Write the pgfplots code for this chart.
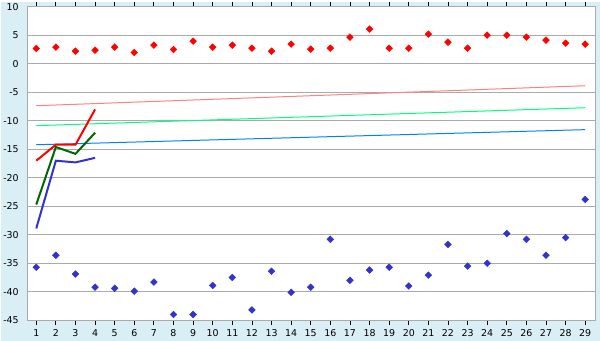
\documentclass[border=0pt]{standalone}
\usepackage{pgfplots}
\pgfplotsset{compat=1.18}
\usepackage{fontspec}
\setmainfont{DejaVu Sans}
\definecolor{bgblue}{HTML}{DAEEF5}
\definecolor{gridgray}{HTML}{AAAAAA}
\definecolor{mblue}{HTML}{3333CC}
\definecolor{dgreen}{HTML}{006600}
\definecolor{tred}{HTML}{FF8080}
\definecolor{tgreen}{HTML}{00FF80}
\definecolor{tblue}{HTML}{0080FF}
\begin{document}
\begin{tikzpicture}
\fill[bgblue] (0,0) rectangle (600bp,340bp);
\begin{axis}[
  at={(26bp,20.7bp)}, anchor=south west,
  scale only axis, width=569bp, height=314bp,
  xmin=0.54, xmax=29.5, ymin=-45, ymax=10,
  xtick={1,...,29}, ytick={-45,-40,...,10},
  ymajorgrids, grid style={gridgray, line width=0.8bp},
  axis line style={gridgray, line width=0.8bp},
  axis background/.style={fill=white},
  tick align=outside, major tick length=5bp,
  xtick style={line width=0.8bp, black},
  ytick style={draw=none},
  tick label style={font=\fontsize{9.5}{11}\selectfont},
  /pgf/number format/assume math mode=true,
  xticklabel style={yshift=-1bp},
  clip=false,
]
% trend lines
\addplot[tred, line width=1bp] coordinates {(1,-7.35) (29,-3.84)};
\addplot[tgreen, line width=1bp] coordinates {(1,-10.85) (29,-7.7)};
\addplot[tblue, line width=1bp] coordinates {(1,-14.2) (29,-11.55)};
% thick lines
\addplot[red, line width=2bp] coordinates {(1,-17.0) (2,-14.2) (3,-14.2) (4,-8.0)};
\addplot[dgreen, line width=2bp] coordinates {(1,-24.7) (2,-14.6) (3,-15.8) (4,-12.1)};
\addplot[mblue, line width=2bp] coordinates {(1,-28.9) (2,-17.0) (3,-17.3) (4,-16.5)};
% red markers
\addplot[only marks, mark=square*, mark size=2.4bp, mark options={rotate=45}, red] coordinates {
(1,2.7) (2,2.93) (3,2.23) (4,2.4) (5,2.93) (6,2.0) (7,3.28) (8,2.52) (9,3.98)
(10,2.93) (11,3.28) (12,2.75) (13,2.23) (14,3.46) (15,2.58) (16,2.75) (17,4.69) (18,6.1) (19,2.75)
(20,2.75) (21,5.22) (22,3.81) (23,2.75) (24,5.04) (25,5.04) (26,4.69) (27,4.16) (28,3.63) (29,3.46)};
% blue markers
\addplot[only marks, mark=square*, mark size=2.4bp, mark options={rotate=45}, mblue] coordinates {
(1,-35.7) (2,-33.6) (3,-36.9) (4,-39.2) (5,-39.4) (6,-39.9) (7,-38.3) (8,-44.0) (9,-44.0)
(10,-38.9) (11,-37.5) (12,-43.2) (13,-36.4) (14,-40.1) (15,-39.2) (16,-30.8) (17,-38.0) (18,-36.2) (19,-35.7)
(20,-39.0) (21,-37.1) (22,-31.7) (23,-35.5) (24,-35.0) (25,-29.8) (26,-30.8) (27,-33.6) (28,-30.5) (29,-23.8)};
\end{axis}
\end{tikzpicture}
\end{document}
